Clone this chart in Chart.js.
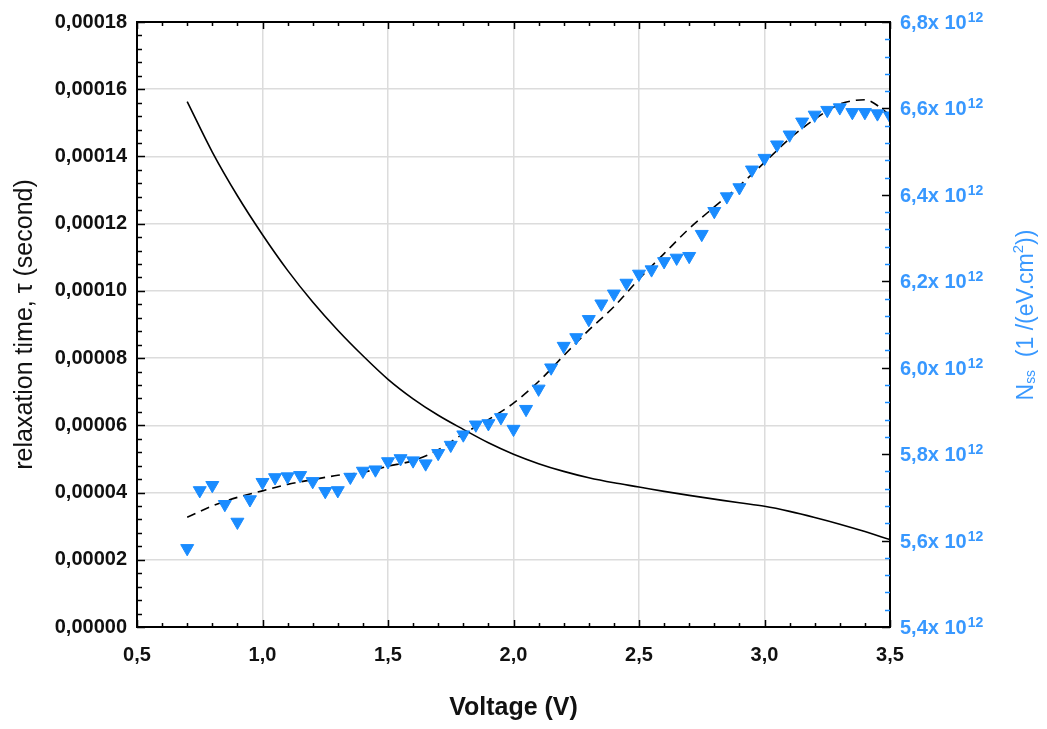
<!DOCTYPE html>
<html>
<head>
<meta charset="utf-8">
<title>Relaxation time and Nss vs voltage</title>
<script src="https://cdn.jsdelivr.net/npm/chart.js@4.4.1/dist/chart.umd.min.js"></script>
<style>
  html, body { margin: 0; padding: 0; background: #fff; }
  #wrap { position: relative; width: 1047px; height: 729px; }
</style>
</head>
<body>
<div id="wrap"><canvas id="chart"></canvas></div>
<script>
// measured interface state density (x10^12 1/(eV.cm2)) vs bias
const voltage = [
  0.70, 0.75, 0.80, 0.85, 0.90, 0.95, 1.00, 1.05, 1.10, 1.15,
  1.20, 1.25, 1.30, 1.35, 1.40, 1.45, 1.50, 1.55, 1.60, 1.65,
  1.70, 1.75, 1.80, 1.85, 1.90, 1.95, 2.00, 2.05, 2.10, 2.15,
  2.20, 2.25, 2.30, 2.35, 2.40, 2.45, 2.50, 2.55, 2.60, 2.65,
  2.70, 2.75, 2.80, 2.85, 2.90, 2.95, 3.00, 3.05, 3.10, 3.15,
  3.20, 3.25, 3.30, 3.35, 3.40, 3.45, 3.50
];
const nssMeasured = [
  5.582, 5.716, 5.728, 5.684, 5.643, 5.695, 5.735, 5.746, 5.748, 5.751,
  5.737, 5.714, 5.716, 5.747, 5.761, 5.764, 5.783, 5.790, 5.785, 5.778,
  5.802, 5.821, 5.845, 5.868, 5.871, 5.885, 5.858, 5.904, 5.951, 6.000,
  6.050, 6.070, 6.112, 6.148, 6.171, 6.196, 6.217, 6.227, 6.246, 6.254,
  6.258, 6.309, 6.362, 6.396, 6.417, 6.458, 6.485, 6.516, 6.539, 6.569,
  6.585, 6.596, 6.602, 6.591, 6.591, 6.588, 6.583
];

// fitted curves
const fitVoltage = [
  0.7, 0.8, 0.9, 1.0, 1.1, 1.2, 1.3, 1.4, 1.5, 1.6,
  1.7, 1.8, 1.9, 2.0, 2.1, 2.2, 2.3, 2.4, 2.5, 2.6,
  2.7, 2.8, 2.9, 3.0, 3.1, 3.2, 3.3, 3.4, 3.5
];
const nssFit = [
  5.654, 5.680, 5.700, 5.715, 5.730, 5.741, 5.751, 5.758, 5.772, 5.785,
  5.810, 5.847, 5.880, 5.918, 5.968, 6.028, 6.087, 6.141, 6.205, 6.264,
  6.322, 6.372, 6.421, 6.475, 6.530, 6.575, 6.610, 6.620, 6.585
];
const tauFit = [
  1.563e-4, 1.413e-4, 1.283e-4, 1.167e-4, 1.061e-4, 9.67e-5, 8.83e-5, 8.07e-5, 7.37e-5, 6.79e-5,
  6.30e-5, 5.88e-5, 5.48e-5, 5.14e-5, 4.86e-5, 4.63e-5, 4.44e-5, 4.29e-5, 4.165e-5, 4.035e-5,
  3.915e-5, 3.805e-5, 3.695e-5, 3.59e-5, 3.44e-5, 3.26e-5, 3.06e-5, 2.84e-5, 2.60e-5
];

const xTicks = { min: 0.5, max: 3.5, step: 0.5, minor: 0.1 };
const tauTicks = { min: 0, max: 0.00018, step: 0.00002, minor: 0.000004 };
const nssTicks = { min: 5.4, max: 6.8, step: 0.2, minor: 0.04 };

const FONT = "'Liberation Sans', Arial, sans-serif";
const BLUE = '#1a8cff';
const BLUE_TEXT = '#3898ff';

const pairs = (xs, ys) => xs.map((x, i) => ({ x: x, y: ys[i] }));
const comma = (v, d) => v.toFixed(d).replace('.', ',');

// walk a tick config, calling fn(value, isMajor)
function eachTick(cfg, fn) {
  const n = Math.round((cfg.max - cfg.min) / cfg.minor);
  const every = Math.round(cfg.step / cfg.minor);
  for (let i = 0; i <= n; i++) fn(cfg.min + i * cfg.minor, i % every === 0);
}

// frame on all four sides plus inward major/minor ticks
const frameTicks = {
  id: 'frameTicks',
  afterDraw(chart) {
    const { ctx, chartArea: a, scales } = chart;
    ctx.save();
    ctx.lineWidth = 2;
    ctx.strokeStyle = '#000';
    ctx.strokeRect(a.left, a.top, a.right - a.left, a.bottom - a.top);

    ctx.lineWidth = 1.5;
    eachTick(xTicks, (v, major) => {
      const px = Math.round(scales.x.getPixelForValue(v)) + 0.5;
      const len = major ? 7 : 4;
      ctx.strokeStyle = '#000';
      ctx.beginPath();
      ctx.moveTo(px, a.bottom); ctx.lineTo(px, a.bottom - len);
      ctx.moveTo(px, a.top); ctx.lineTo(px, a.top + len);
      ctx.stroke();
    });
    eachTick(tauTicks, (v, major) => {
      const py = Math.round(scales.y.getPixelForValue(v)) + 0.5;
      ctx.strokeStyle = '#000';
      ctx.beginPath();
      ctx.moveTo(a.left, py); ctx.lineTo(a.left + (major ? 8 : 5), py);
      ctx.stroke();
    });
    eachTick(nssTicks, (v, major) => {
      const py = Math.round(scales.y2.getPixelForValue(v)) + 0.5;
      ctx.strokeStyle = major ? '#000' : BLUE;
      ctx.beginPath();
      ctx.moveTo(a.right, py); ctx.lineTo(a.right - (major ? 8 : 5), py);
      ctx.stroke();
    });
    ctx.restore();
  }
};

// right axis labels "6,8x 10^12" and the rotated Nss title
const nssLabels = {
  id: 'nssLabels',
  afterDraw(chart) {
    const { ctx, chartArea: a, scales } = chart;
    ctx.save();
    ctx.fillStyle = BLUE_TEXT;
    ctx.textBaseline = 'alphabetic';
    ctx.textAlign = 'left';
    eachTick(nssTicks, (v, major) => {
      if (!major) return;
      const py = scales.y2.getPixelForValue(v);
      const base = py + 7;
      const x0 = a.right + 10;
      ctx.font = 'bold 20px ' + FONT;
      const txt = comma(v, 1) + 'x 10';
      ctx.fillText(txt, x0, base);
      const w = ctx.measureText(txt).width;
      ctx.font = 'bold 14px ' + FONT;
      ctx.fillText('12', x0 + w + 1, base - 7);
    });

    const size = 23;
    const parts = [
      { t: 'N', s: size, dy: 0 },
      { t: 'ss', s: size * 0.6, dy: 2 },
      { t: '  (1 /(eV.cm', s: size, dy: 0 },
      { t: '2', s: size * 0.65, dy: -10 },
      { t: '))', s: size, dy: 0 }
    ];
    let total = 0;
    parts.forEach(p => {
      ctx.font = p.s + 'px ' + FONT;
      p.w = ctx.measureText(p.t).width;
      total += p.w;
    });
    ctx.translate(1025, 315);
    ctx.rotate(-Math.PI / 2);
    let x = -total / 2;
    parts.forEach(p => {
      ctx.font = p.s + 'px ' + FONT;
      ctx.fillText(p.t, x, 8 + p.dy);
      x += p.w;
    });
    ctx.restore();
  }
};

new Chart(document.getElementById('chart'), {
  type: 'scatter',
  data: {
    datasets: [
      {
        label: 'Nss',
        data: pairs(voltage, nssMeasured),
        yAxisID: 'y2',
        pointStyle: 'triangle',
        rotation: 180,
        pointRadius: 7.5,
        pointBackgroundColor: BLUE,
        pointBorderColor: BLUE,
        pointBorderWidth: 1,
        showLine: false,
        order: 0
      },
      {
        label: 'Nss fit',
        data: pairs(fitVoltage, nssFit),
        yAxisID: 'y2',
        showLine: true,
        pointRadius: 0,
        borderColor: '#000',
        borderWidth: 1.6,
        borderDash: [9, 6],
        tension: 0.4,
        cubicInterpolationMode: 'monotone',
        order: 1
      },
      {
        label: 'tau',
        data: pairs(fitVoltage, tauFit),
        yAxisID: 'y',
        showLine: true,
        pointRadius: 0,
        borderColor: '#000',
        borderWidth: 1.6,
        tension: 0.4,
        cubicInterpolationMode: 'monotone',
        order: 2
      }
    ]
  },
  options: {
    responsive: true,
    maintainAspectRatio: false,
    animation: false,
    layout: { padding: { top: 19, left: 0, right: 0, bottom: 0 } },
    plugins: { legend: { display: false }, tooltip: { enabled: false } },
    scales: {
      x: {
        type: 'linear',
        min: xTicks.min, max: xTicks.max,
        afterFit: s => { s.height = 102; },
        ticks: {
          stepSize: xTicks.step,
          padding: 16,
          color: '#111',
          font: { family: FONT, size: 20, weight: 'bold' },
          callback: v => comma(v, 1)
        },
        grid: { color: '#dcdcdc', lineWidth: 1.5, drawTicks: false },
        border: { display: true, color: '#000', width: 2 },
        title: {
          display: true,
          text: 'Voltage (V)',
          color: '#111',
          font: { family: FONT, size: 25, weight: 'bold' },
          padding: { top: 0, bottom: 6 }
        }
      },
      y: {
        position: 'left',
        min: tauTicks.min, max: tauTicks.max,
        afterFit: s => { s.width = 137; },
        ticks: {
          stepSize: tauTicks.step,
          padding: 10,
          color: '#111',
          font: { family: FONT, size: 20, weight: 'bold' },
          callback: v => comma(v, 5)
        },
        grid: { color: '#dcdcdc', lineWidth: 1.5, drawTicks: false },
        border: { display: true, color: '#000', width: 2 },
        title: {
          display: true,
          text: 'relaxation time, \u03c4 (second)',
          color: '#111',
          font: { family: FONT, size: 25 },
          padding: { top: 10, bottom: 0 }
        }
      },
      y2: {
        position: 'right',
        min: nssTicks.min, max: nssTicks.max,
        afterFit: s => { s.width = 157; },
        ticks: { display: false, stepSize: nssTicks.step },
        grid: { display: false, drawTicks: false },
        border: { display: true, color: '#000', width: 2 }
      }
    }
  },
  plugins: [frameTicks, nssLabels]
});
</script>
</body>
</html>
